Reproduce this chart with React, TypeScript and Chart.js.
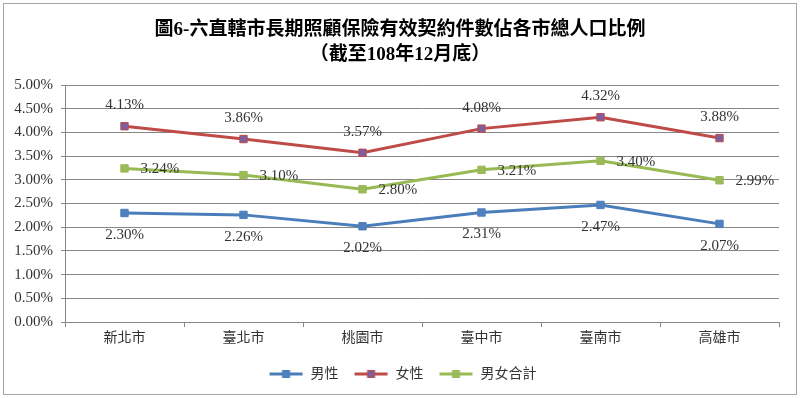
import React, { useEffect, useRef } from 'react';
import { Chart, registerables } from 'chart.js';

Chart.register(...registerables);

const categories = ['新北市', '臺北市', '桃園市', '臺中市', '臺南市', '高雄市'];
const maleValues = [2.30, 2.26, 2.02, 2.31, 2.47, 2.07];
const femaleValues = [4.13, 3.86, 3.57, 4.08, 4.32, 3.88];
const totalValues = [3.24, 3.10, 2.80, 3.21, 3.40, 2.99];
const seriesNames = ['男性', '女性', '男女合計'];
const titleLines = ['圖6-六直轄市長期照顧保險有效契約件數佔各市總人口比例', '（截至108年12月底）'];
const yMin = 0;
const yMax = 5;
const yStep = 0.5;

const FONT = "'Liberation Serif', 'Noto Sans CJK TC', serif";

const lineColors = ['#4A7EBB', '#BE4B48', '#98B954'];
const markerFill = ['#4F81BD', '#7D5FA0', '#9BBB59'];
const markerBorder = ['#4A7EBB', '#BE4B48', '#98B954'];

function makeLegendIcon(line: string, fill: string, border: string) {
  const c = document.createElement('canvas');
  c.width = 40;
  c.height = 12;
  const g = c.getContext('2d')!;
  g.strokeStyle = line;
  g.lineWidth = 3;
  g.beginPath();
  g.moveTo(6, 6);
  g.lineTo(39, 6);
  g.stroke();
  g.fillStyle = fill;
  g.fillRect(19, 2.5, 7, 7);
  g.strokeStyle = border;
  g.lineWidth = 1;
  g.strokeRect(19, 2.5, 7, 7);
  return c;
}

const framePlugin = {
  id: 'frame',
  beforeDraw(chart: any) {
    const ctx = chart.ctx;
    ctx.save();
    ctx.fillStyle = '#ffffff';
    ctx.fillRect(0, 0, chart.width, chart.height);
    ctx.strokeStyle = '#a6a6a6';
    ctx.lineWidth = 1;
    ctx.strokeRect(3.5, 3.5, chart.width - 7, chart.height - 7);
    ctx.restore();
  },
};

const valueLabelPlugin = {
  id: 'valueLabels',
  afterDatasetsDraw(chart: any) {
    const ctx = chart.ctx;
    ctx.save();
    ctx.font = `15px ${FONT}`;
    ctx.fillStyle = '#333333';
    chart.data.datasets.forEach((ds: any, i: number) => {
      const meta = chart.getDatasetMeta(i);
      meta.data.forEach((pt: any, j: number) => {
        const text = Number(ds.data[j]).toFixed(2) + '%';
        if (i === 0) {
          ctx.textAlign = 'center';
          ctx.textBaseline = 'middle';
          ctx.fillText(text, pt.x, pt.y + 22);
        } else if (i === 1) {
          ctx.textAlign = 'center';
          ctx.textBaseline = 'middle';
          ctx.fillText(text, pt.x, pt.y - 21);
        } else {
          ctx.textAlign = 'left';
          ctx.textBaseline = 'middle';
          ctx.fillText(text, pt.x + 16, pt.y + 1);
        }
      });
    });
    ctx.restore();
  },
};

export default function App() {
  const ref = useRef<HTMLCanvasElement | null>(null);

  useEffect(() => {
    document.body.style.margin = '0';
    const canvas = ref.current;
    if (!canvas) return;
    const icons = [0, 1, 2].map((i) => makeLegendIcon(lineColors[i], markerFill[i], markerBorder[i]));
    const seriesData = [maleValues, femaleValues, totalValues];

    const chart = new Chart(canvas, {
      type: 'line',
      data: {
        labels: categories,
        datasets: seriesData.map((d, i) => ({
          label: seriesNames[i],
          data: d,
          borderColor: lineColors[i],
          backgroundColor: markerFill[i],
          borderWidth: 3,
          pointStyle: 'rect',
          pointRadius: 5.2,
          pointBorderWidth: 1,
          pointBackgroundColor: markerFill[i],
          pointBorderColor: markerBorder[i],
          tension: 0,
          fill: false,
          yAxisID: 'y',
        })),
      },
      options: {
        responsive: false,
        animation: false,
        layout: { padding: { left: 0, right: 0, top: 0, bottom: 7 } },
        plugins: {
          title: {
            display: true,
            text: titleLines,
            color: '#000000',
            font: { family: FONT, size: 19, weight: 'bold', lineHeight: 1.316 },
            padding: { top: 17.5, bottom: 17.5 },
          },
          legend: {
            display: true,
            position: 'bottom',
            labels: {
              usePointStyle: true,
              pointStyleWidth: 40,
              boxHeight: 12,
              padding: 10,
              color: '#333333',
              font: { family: FONT, size: 14 },
              generateLabels: (ch: any) => {
                const base = Chart.defaults.plugins.legend.labels.generateLabels(ch);
                return base.map((l: any, i: number) => ({ ...l, pointStyle: icons[i], lineWidth: 0 }));
              },
            },
          },
          tooltip: { enabled: false },
        },
        scales: {
          x: {
            type: 'category',
            offset: true,
            grid: {
              offset: true,
              drawOnChartArea: false,
              drawTicks: true,
              tickLength: 5,
              color: '#868686',
            },
            border: { display: true, color: '#868686' },
            ticks: {
              color: '#333333',
              font: { family: FONT, size: 14 },
              padding: 3,
              maxRotation: 0,
            },
            afterFit: (scale: any) => {
              scale.height = 35;
            },
          },
          y: {
            position: 'left',
            min: yMin,
            max: yMax,
            ticks: {
              stepSize: yStep,
              color: '#333333',
              font: { family: FONT, size: 15 },
              padding: 8,
              callback: (v: any) => Number(v).toFixed(2) + '%',
            },
            grid: {
              color: '#868686',
              tickLength: 4,
            },
            border: { display: true, color: '#868686' },
            afterFit: (scale: any) => {
              scale.width = 65;
            },
          },
          yRight: {
            position: 'right',
            min: yMin,
            max: yMax,
            display: true,
            ticks: { display: false },
            grid: { display: false, drawOnChartArea: false, drawTicks: false },
            border: { display: false },
            afterFit: (scale: any) => {
              scale.width = 21;
            },
          },
        },
      },
      plugins: [framePlugin, valueLabelPlugin],
    } as any);

    return () => chart.destroy();
  }, []);

  return (
    <div style={{ width: 800, height: 398 }}>
      <canvas ref={ref} width={800} height={398} style={{ display: 'block' }} />
    </div>
  );
}
